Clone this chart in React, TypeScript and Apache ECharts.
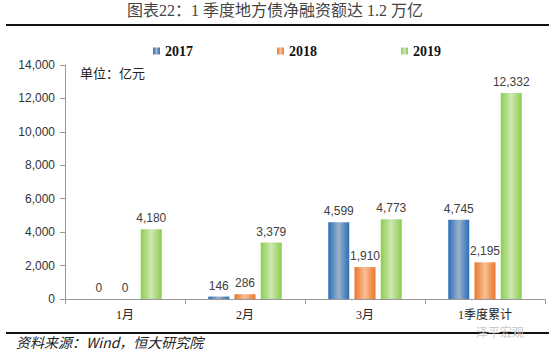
import React, { useEffect, useRef } from "react";
import * as echarts from "echarts";

const categories = ["1月", "2月", "3月", "1季度累计"];
const seriesNames = ["2017", "2018", "2019"];
const values2017 = [0, 146, 4599, 4745];
const values2018 = [0, 286, 1910, 2195];
const values2019 = [4180, 3379, 4773, 12332];
const yTicks = { min: 0, max: 14000, interval: 2000 };

const CJK = "'Liberation Serif', 'Noto Sans CJK SC', serif";

function grad(edge: string, mid: string) {
  return new echarts.graphic.LinearGradient(0, 0, 1, 0, [
    { offset: 0, color: edge },
    { offset: 0.5, color: mid },
    { offset: 1, color: edge },
  ]);
}

export default function App() {
  const ref = useRef<HTMLDivElement>(null);
  useEffect(() => {
    document.body.style.margin = "0";
    if (!ref.current) return;
    const chart = echarts.init(ref.current, undefined, { renderer: "svg" });
    const colors = [
      grad("#2a6ebb", "#9bb2c9"),
      grad("#e8762a", "#f9bf94"),
      grad("#8ccc4e", "#cfe8b4"),
    ];
    const data = [values2017, values2018, values2019];
    const fmt = (p: any) => Number(p.value).toLocaleString("en-US");
    chart.setOption({
      animation: false,
      backgroundColor: "#ffffff",
      grid: { left: 65, right: 5, top: 65, bottom: 55, containLabel: false },
      legend: {
        left: 148,
        top: 39,
        itemWidth: 7,
        itemHeight: 7,
        itemGap: 84,
        icon: "rect",
        textStyle: {
          fontFamily: "'Liberation Serif', serif",
          fontWeight: "bold",
          fontSize: 14,
          color: "#111",
        },
        data: seriesNames,
      },
      xAxis: {
        type: "category",
        data: categories,
        axisLine: { lineStyle: { color: "#999", width: 1 } },
        axisTick: { show: true, length: 5, lineStyle: { color: "#999" } },
        axisLabel: {
          fontFamily: CJK,
          fontSize: 12,
          color: "#222",
          margin: 10,
        },
      },
      yAxis: {
        type: "value",
        min: yTicks.min,
        max: yTicks.max,
        interval: yTicks.interval,
        splitLine: { show: false },
        axisLine: { show: true, lineStyle: { color: "#999", width: 1 } },
        axisTick: { show: true, length: 5, lineStyle: { color: "#999" } },
        axisLabel: {
          fontFamily: "'Liberation Sans', Arial, sans-serif",
          fontSize: 12,
          color: "#333",
          margin: 10,
          formatter: (v: number) => v.toLocaleString("en-US"),
        },
      },
      series: seriesNames.map((name, i) => ({
        name,
        type: "bar",
        data: data[i],
        barWidth: 21,
        barGap: "25%",
        itemStyle: { color: colors[i] },
        label: {
          show: true,
          position: "top",
          distance: 5,
          fontFamily: "'Liberation Sans', Arial, sans-serif",
          fontSize: 12,
          color: "#404040",
          formatter: fmt,
        },
      })),
      graphic: [
        {
          type: "text",
          left: "center",
          top: 2,
          style: {
            text: "图表22：1 季度地方债净融资额达 1.2 万亿",
            font: "16px 'Liberation Serif', 'Noto Sans CJK SC', serif",
            fill: "#444",
          },
        },
        {
          type: "rect",
          shape: { x: 6, y: 24, width: 543, height: 2 },
          style: { fill: "#111" },
        },
        {
          type: "text",
          left: 80,
          top: 66,
          style: {
            text: "单位：亿元",
            font: "13px 'Noto Sans CJK SC', sans-serif",
            fill: "#222",
          },
        },
        {
          type: "rect",
          shape: { x: 6, y: 332, width: 543, height: 2 },
          style: { fill: "#111" },
        },
        {
          type: "text",
          left: 16,
          top: 335,
          style: {
            text: "资料来源：Wind，恒大研究院",
            font: "italic 14px 'Noto Sans CJK SC', sans-serif",
            fill: "#222",
          },
        },
        {
          type: "text",
          left: 476,
          top: 325,
          style: {
            text: "泽平宏观",
            font: "12px 'Noto Sans CJK SC', sans-serif",
            fill: "#c8c8c8",
          },
        },
      ],
    });
    return () => chart.dispose();
  }, []);
  return <div ref={ref} style={{ width: 550, height: 354 }} />;
}
